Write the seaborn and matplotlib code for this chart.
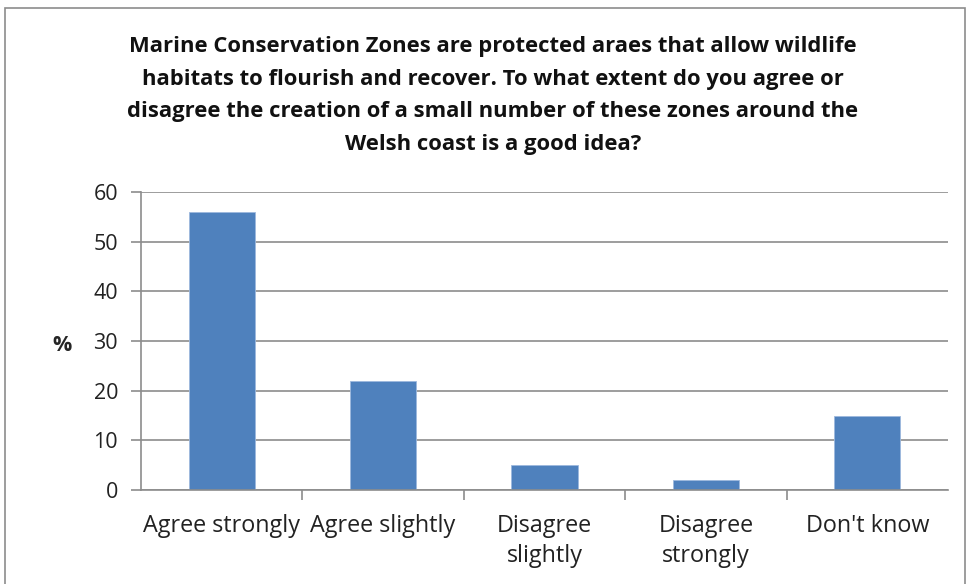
import matplotlib
matplotlib.use("Agg")
import matplotlib.pyplot as plt
import seaborn as sns
import pandas as pd
from matplotlib.patches import Rectangle

categories = ["Agree strongly", "Agree slightly", "Disagree\nslightly", "Disagree\nstrongly", "Don't know"]
values = [56, 22, 5, 2, 15]
yticks = [0, 10, 20, 30, 40, 50, 60]
title = ("Marine Conservation Zones are protected araes that allow wildlife\n"
         "habitats to flourish and recover. To what extent do you agree or\n"
         "disagree the creation of a small number of these zones around the\n"
         "Welsh coast is a good idea?")

sns.set_theme(style="white")
plt.rcParams['font.family'] = ['Open Sans', 'DejaVu Sans']

df = pd.DataFrame({"cat": categories, "val": values})

fig = plt.figure(figsize=(9.67, 5.84), dpi=100)
ax = fig.add_axes([141/967, 94/584, (948-141)/967, (490-192)/584])
sns.barplot(data=df, x="cat", y="val", color="#4F81BD", width=0.41, saturation=1, ax=ax,
            edgecolor="#9DB9DE", linewidth=0.6)

ax.set_ylim(0, 60)
ax.set_xlim(-0.5, 4.5)
ax.set_yticks(yticks)
ax.yaxis.grid(True, color="#8C8C8C", linewidth=1.2)
ax.set_axisbelow(True)
for s in ["top", "right"]:
    ax.spines[s].set_visible(False)
for s in ["left", "bottom"]:
    ax.spines[s].set_color("#8C8C8C")
    ax.spines[s].set_linewidth(1.2)

ax.tick_params(axis="y", length=7.5, width=1.2, color="#8C8C8C", labelsize=15.5, pad=9, left=True)
ax.tick_params(axis="x", length=0, labelsize=16.8, pad=17)
ax.set_xticks(range(len(categories)))
ax.set_xticklabels(categories, linespacing=1.38)
ax.set_xticks([0.5, 1.5, 2.5, 3.5], minor=True)
ax.tick_params(axis="x", which="minor", length=7, width=1.2, color="#8C8C8C", bottom=True)
for lab in ax.get_xticklabels() + ax.get_yticklabels():
    lab.set_color("#222222")

ax.set_xlabel("")
ax.set_ylabel("%", rotation=0, fontsize=15.5, fontweight="bold", labelpad=0, va="center")
ax.yaxis.set_label_coords(-0.098, 0.485)

fig.text(493/967, 1 - 36/584, title, ha="center", va="top", fontsize=15.8,
         fontweight="bold", linespacing=1.73, color="#111111")

fig.patches.append(Rectangle((5/967, -0.05), 960/967, 1.05 - 8/584, transform=fig.transFigure,
                             fill=False, edgecolor="#8C8C8C", linewidth=1.2))

fig.savefig("out.png", dpi=100)
